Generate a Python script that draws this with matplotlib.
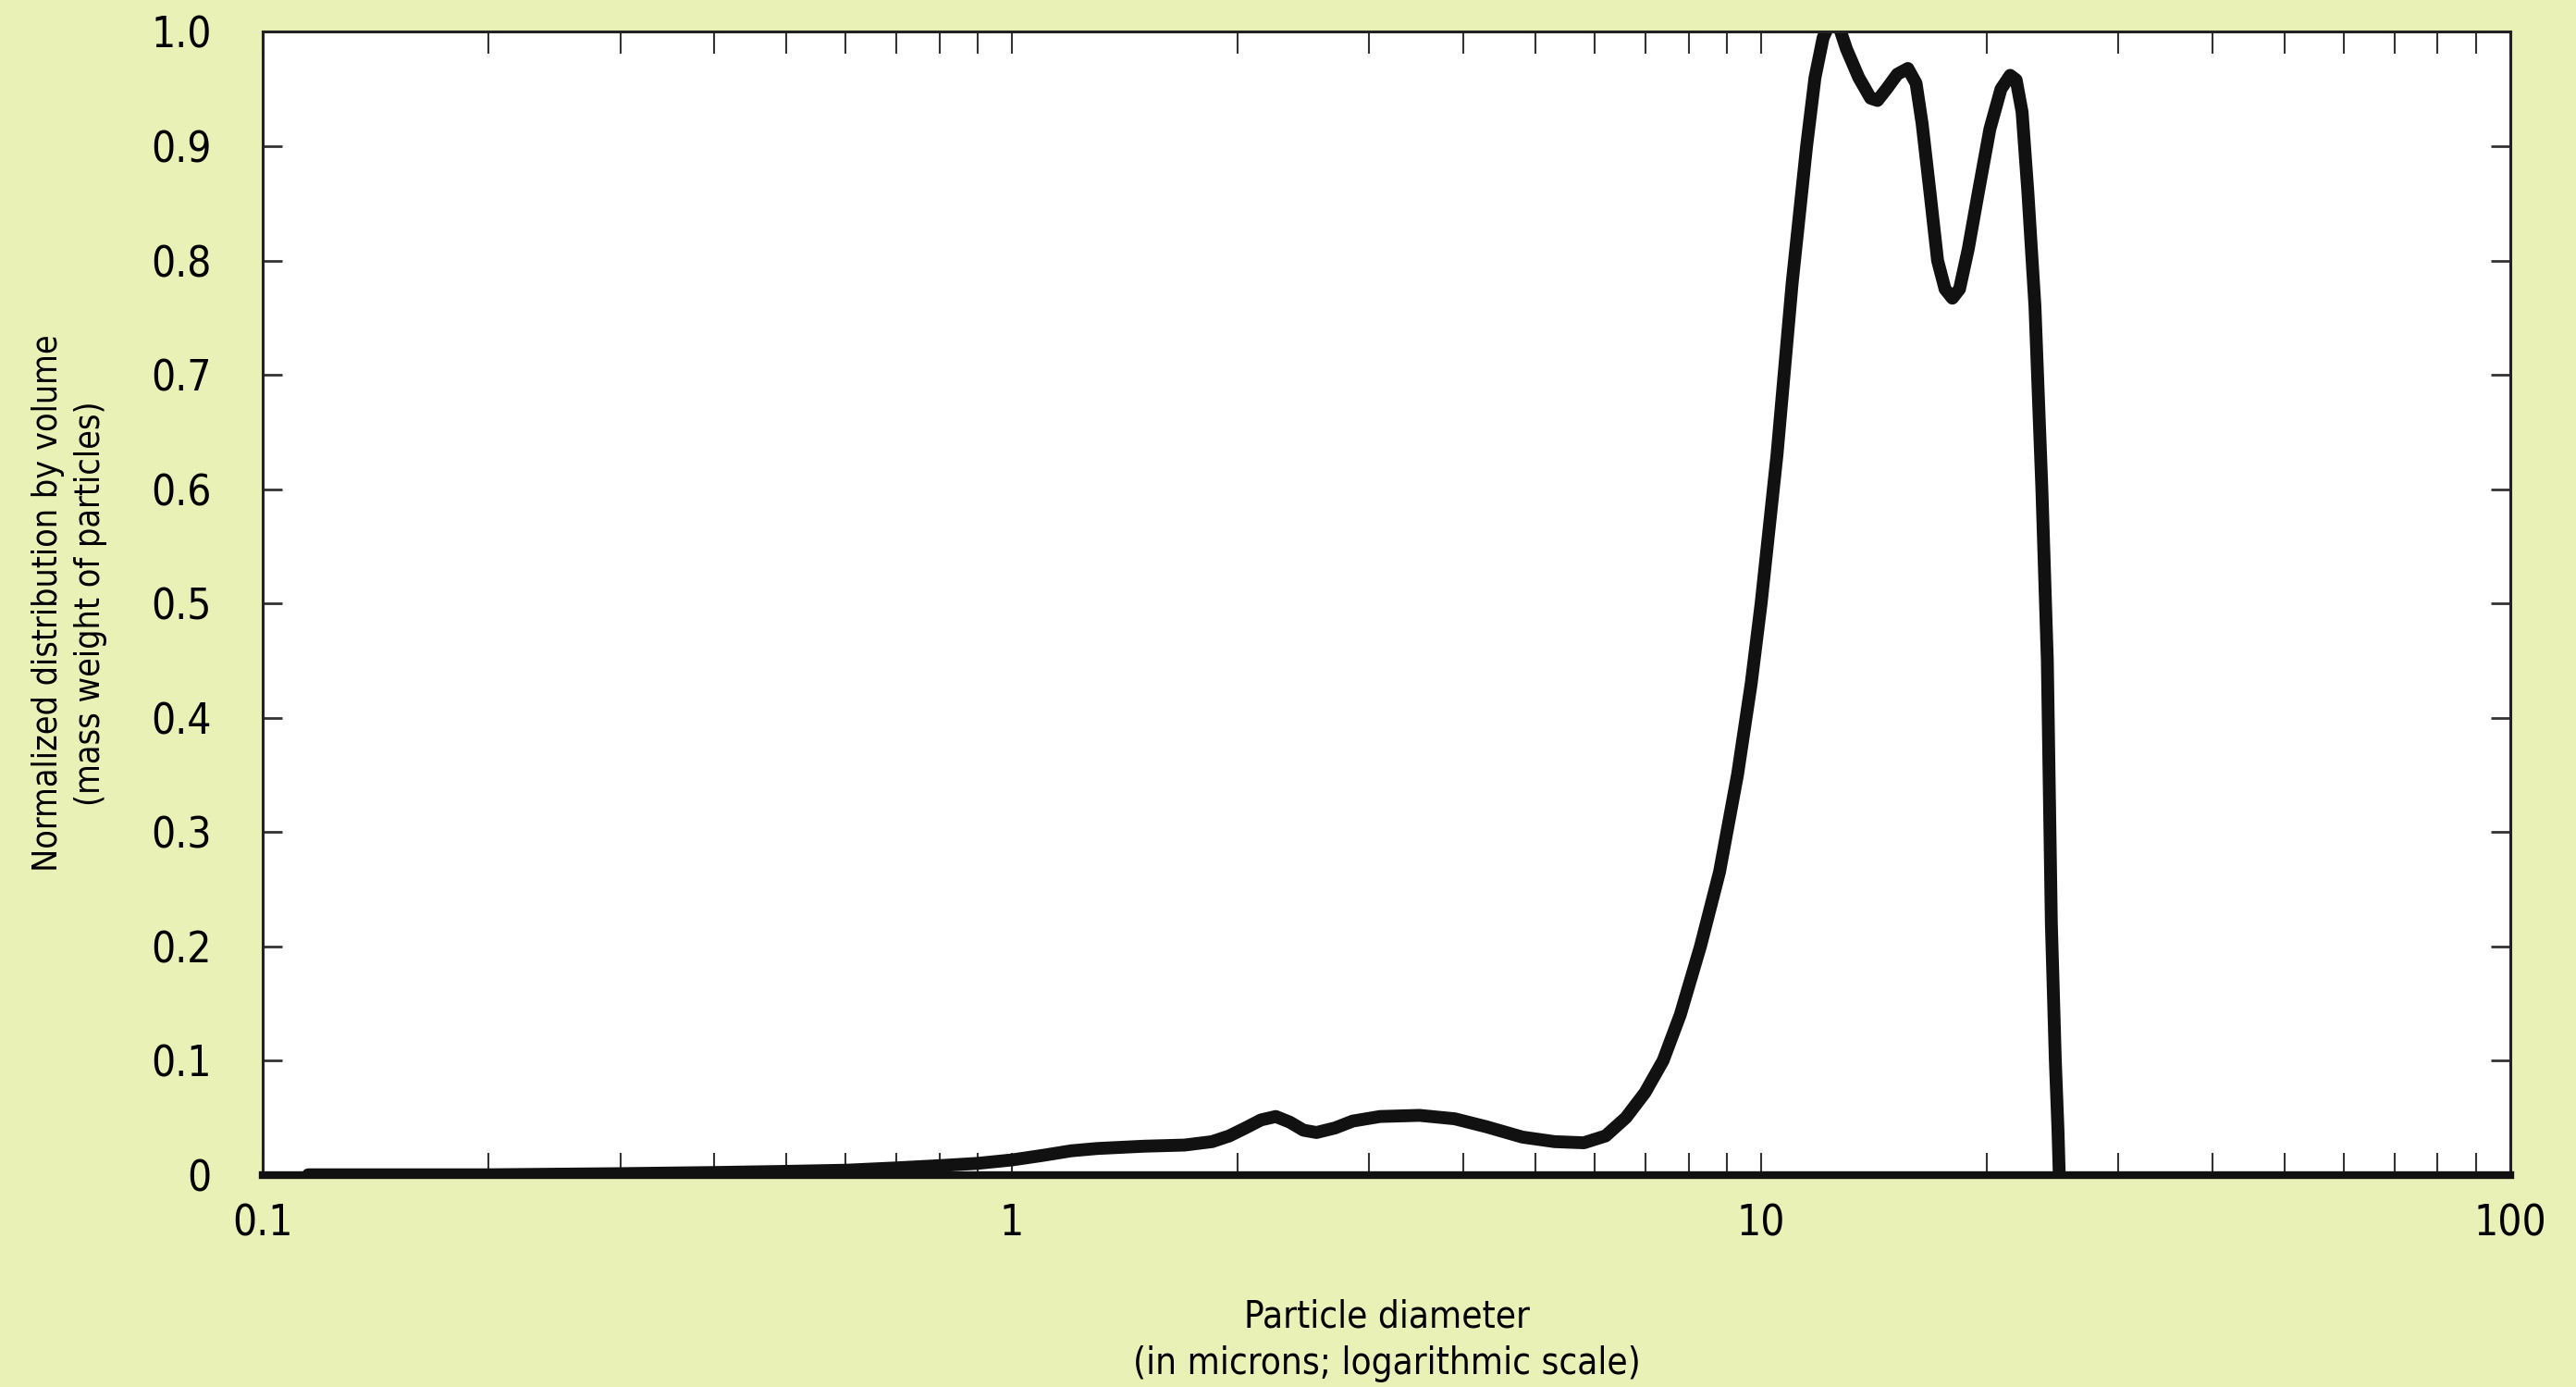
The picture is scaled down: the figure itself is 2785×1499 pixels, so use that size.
import matplotlib
matplotlib.use('Agg')
import matplotlib.pyplot as plt
from matplotlib import font_manager
from matplotlib.ticker import LogLocator, FixedLocator, NullFormatter

# pick a narrow face if one is installed
fonts = font_manager.fontManager.ttflist
names = {f.name for f in fonts}
if 'Liberation Sans Narrow' in names:
    plt.rcParams['font.family'] = ['Liberation Sans Narrow', 'DejaVu Sans']
else:
    plt.rcParams['font.family'] = ['DejaVu Sans']
    if any(f.name == 'DejaVu Sans' and f.stretch == 'condensed' for f in fonts):
        plt.rcParams['font.stretch'] = 'condensed'

# particle diameter (microns) and normalized volume distribution
diameter = [0.115, 0.2, 0.3, 0.4, 0.5, 0.6, 0.7, 0.8, 0.9, 1.0, 1.1, 1.2, 1.3, 1.5, 1.7,
            1.85, 1.95, 2.05, 2.15, 2.25, 2.35, 2.45, 2.55, 2.7, 2.85, 3.1, 3.5, 3.9, 4.3,
            4.8, 5.3, 5.8, 6.2, 6.6, 7.0, 7.4, 7.8, 8.3, 8.8, 9.3, 9.7, 10.0, 10.5, 11.0,
            11.5, 11.8, 12.1, 12.4, 12.7, 13.0, 13.5, 14.0, 14.3, 14.7, 15.2, 15.7, 16.1,
            16.4, 16.8, 17.2, 17.6, 18.0, 18.4, 18.9, 19.5, 20.2, 20.9, 21.5, 21.9, 22.3,
            22.7, 23.2, 23.7, 24.1, 24.4, 24.7, 24.9, 25.0]
volume = [0.0, 0.0, 0.001, 0.002, 0.003, 0.004, 0.006, 0.008, 0.010, 0.013, 0.017, 0.021,
          0.023, 0.025, 0.026, 0.029, 0.034, 0.041, 0.048, 0.051, 0.046, 0.039, 0.037,
          0.041, 0.047, 0.051, 0.052, 0.049, 0.042, 0.033, 0.029, 0.028, 0.034, 0.050,
          0.072, 0.100, 0.140, 0.200, 0.265, 0.350, 0.430, 0.500, 0.630, 0.780, 0.900,
          0.960, 0.995, 1.010, 1.005, 0.985, 0.960, 0.942, 0.940, 0.950, 0.963, 0.968,
          0.955, 0.920, 0.860, 0.800, 0.775, 0.767, 0.775, 0.810, 0.860, 0.915, 0.950,
          0.962, 0.958, 0.930, 0.860, 0.760, 0.600, 0.450, 0.220, 0.100, 0.040, 0.0]

x_ticks = [0.1, 1, 10, 100]
x_labels = ['0.1', '1', '10', '100']
y_ticks = [0, 0.1, 0.2, 0.3, 0.4, 0.5, 0.6, 0.7, 0.8, 0.9, 1.0]
y_labels = ['0', '0.1', '0.2', '0.3', '0.4', '0.5', '0.6', '0.7', '0.8', '0.9', '1.0']

bg = '#E9F1B6'
fig = plt.figure(figsize=(27.85, 14.99), dpi=100, facecolor=bg)
ax = fig.add_axes([0.102, 0.153, 0.8725, 0.824])
ax.set_facecolor('white')

ax.plot(diameter, volume, color='#111111', linewidth=10, solid_joinstyle='round',
        solid_capstyle='round')

ax.set_xscale('log')
ax.set_xlim(0.1, 100)
ax.set_ylim(0, 1.0)

ax.xaxis.set_major_locator(FixedLocator(x_ticks))
ax.set_xticklabels(x_labels)
ax.xaxis.set_minor_locator(LogLocator(base=10, subs=range(2, 10)))
ax.xaxis.set_minor_formatter(NullFormatter())
ax.set_yticks(y_ticks)
ax.set_yticklabels(y_labels)

ax.tick_params(axis='x', which='both', direction='in', top=True, bottom=True,
               length=17, width=1.5, color='#333333', labelsize=33, pad=22)
ax.tick_params(axis='y', which='major', direction='in', left=True, right=True,
               length=15, width=2, color='#333333', labelsize=33, pad=40)

for side in ['top', 'left', 'right']:
    ax.spines[side].set_linewidth(2.2)
    ax.spines[side].set_color('#222222')
ax.spines['bottom'].set_linewidth(6)
ax.spines['bottom'].set_color('#111111')

ax.set_xlabel('Particle diameter\n(in microns; logarithmic scale)', fontsize=29,
              labelpad=42, linespacing=1.35)
ax.set_ylabel('Normalized distribution by volume\n(mass weight of particles)', fontsize=27,
              labelpad=34, linespacing=1.35)

fig.savefig('out.png', dpi=100, facecolor=bg)
